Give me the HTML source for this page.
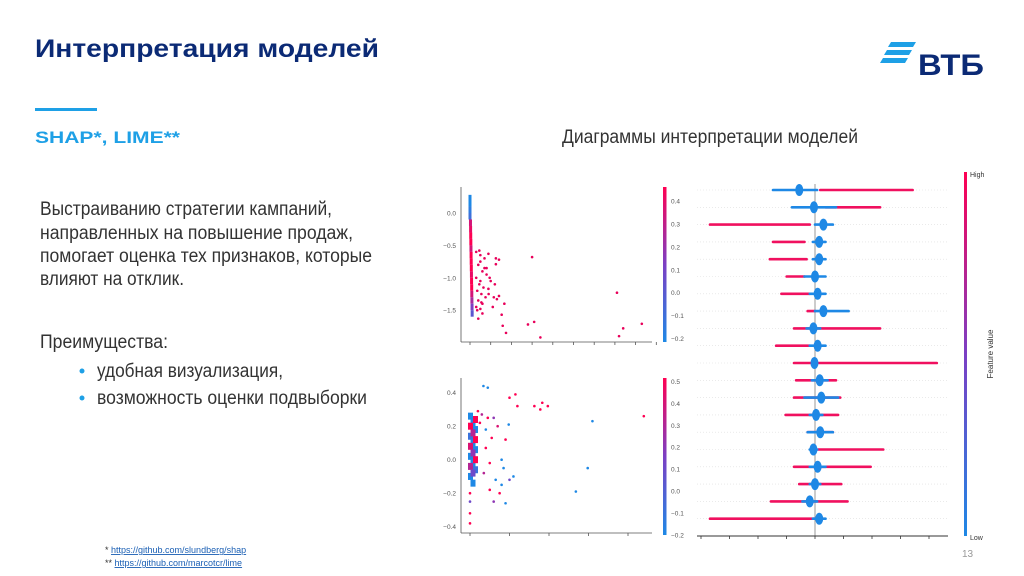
<!DOCTYPE html>
<html><head><meta charset="utf-8">
<style>
html,body{margin:0;padding:0;background:#fff;}
body{width:1024px;height:576px;overflow:hidden;position:relative;font-family:"Liberation Sans","Noto Sans CJK SC",sans-serif;}
svg{position:absolute;left:0;top:0;}
</style></head>
<body>
<svg id="s" width="1024" height="576" viewBox="0 0 1024 576">
  <text x="35" y="57" font-size="25" font-weight="bold" fill="#0b2a75" textLength="344" lengthAdjust="spacingAndGlyphs">Интерпретация моделей</text>
  <rect x="35" y="108" width="62" height="3" fill="#1ea0e6"/>
  <text x="35" y="143" font-size="17" font-weight="bold" fill="#1ea0e6" textLength="145" lengthAdjust="spacingAndGlyphs">SHAP*, LIME**</text>
  <g>
    <polygon points="891,42 916,42 913,47 888,47" fill="#1ea0e6"/>
    <polygon points="887,50 912,50 909,55 884,55" fill="#1ea0e6"/>
    <polygon points="883,58 908,58 905,63 880,63" fill="#1ea0e6"/>
    <text x="918" y="75" font-size="30" font-weight="bold" fill="#0b2a75" textLength="66" lengthAdjust="spacingAndGlyphs">ВТБ</text>
  </g>
  <g font-size="19" fill="#333">
    <text x="40" y="215" textLength="292" lengthAdjust="spacingAndGlyphs">Выстраиванию стратегии кампаний,</text>
    <text x="40" y="239" textLength="313" lengthAdjust="spacingAndGlyphs">направленных на повышение продаж,</text>
    <text x="40" y="262" textLength="332" lengthAdjust="spacingAndGlyphs">помогает оценка тех признаков, которые</text>
    <text x="40" y="285" textLength="144" lengthAdjust="spacingAndGlyphs">влияют на отклик.</text>
    <text x="40" y="348" textLength="128" lengthAdjust="spacingAndGlyphs">Преимущества:</text>
    <circle cx="82" cy="371" r="2.5" fill="#1ea0e6"/>
    <text x="97" y="377" textLength="186" lengthAdjust="spacingAndGlyphs">удобная визуализация,</text>
    <circle cx="82" cy="398" r="2.5" fill="#1ea0e6"/>
    <text x="97" y="404" textLength="270" lengthAdjust="spacingAndGlyphs">возможность оценки подвыборки</text>
  </g>
  <text x="562" y="143" font-size="19" fill="#333" textLength="296" lengthAdjust="spacingAndGlyphs">Диаграммы интерпретации моделей</text>
  <g font-size="9">
    <text x="105" y="553" fill="#333">* <tspan fill="#1a5fb4" text-decoration="underline">https://github.com/slundberg/shap</tspan></text>
    <text x="105" y="566" fill="#333">** <tspan fill="#1a5fb4" text-decoration="underline">https://github.com/marcotcr/lime</tspan></text>
  </g>
  <text x="962" y="557" font-size="10" fill="#999">13</text>
  <defs>
    <linearGradient id="cb" x1="0" y1="1" x2="0" y2="0">
      <stop offset="0" stop-color="#1e88e5"/><stop offset="0.5" stop-color="#7b3fc4"/><stop offset="1" stop-color="#ff0052"/>
    </linearGradient>
  </defs>
  <g id="top"></g>
  <g id="bot"></g>
  <g id="bee"></g>
</svg>
<script>
// ---- data: top dependence plot ----
const topYTicks = [0.0, -0.5, -1.0, -1.5];
const topCbTicks = [0.4, 0.3, 0.2, 0.1, 0.0, -0.1, -0.2];
const topPtsX = [3.0,7.1,8.3,7.4,7.2,3.4,3.1,2.8,1.74,1.58,1.53,1.66,0.89,1.25,1.4,1.25,0.8,0.95,0.89,1.4,1.1,0.4,0.6,
  0.3,0.5,0.7,0.4,0.6,0.3,0.5,0.8,0.45,0.65,0.35,0.55,0.75,0.4,0.6,0.3,0.5,0.7,1.0,1.2,0.9,0.35,0.55,0.45,1.15,1.3,0.5];
const topPtsY = [-0.68,-1.23,-1.71,-1.78,-1.9,-1.92,-1.68,-1.72,-1.85,-1.74,-1.57,-1.4,-0.63,-0.70,-0.72,-0.79,-0.85,-1.0,-1.17,-1.28,-1.45,-1.63,-1.55,
  -0.6,-0.65,-0.7,-0.8,-0.9,-1.0,-1.05,-0.95,-1.1,-1.15,-1.2,-1.25,-1.3,-1.35,-1.4,-1.45,-0.75,-0.85,-1.05,-1.1,-1.25,-1.5,-1.38,-0.58,-1.3,-1.33,-1.48];
const topColY = [0.28,0.2,0.1,0.0,-0.1,-0.2,-0.3,-0.4,-0.5,-0.6,-0.7,-0.8,-0.9,-1.0,-1.1,-1.2,-1.3,-1.4,-1.5];
const topColVal = [-0.2,-0.2,-0.15,-0.1,0.3,0.35,0.4,0.4,0.3,0.4,0.4,0.4,0.35,0.4,0.4,0.3,0.2,0.1,0.0];
// ---- data: bottom dependence plot ----
const botYTicks = [0.4, 0.2, 0.0, -0.2, -0.4];
const botCbTicks = [0.5, 0.4, 0.3, 0.2, 0.1, 0.0, -0.1, -0.2];
const botPtsX = [0.34,0.45,1.0,1.15,1.2,1.63,1.78,1.83,1.97,4.4,3.1,2.98,2.68,0.98,0.2,0.3,0.45,0.6,0.55,0.7,0.4,0.8,0.9,0.35,0.5,0.65,0.25,0.85,1.0,0.75,0.0,0.0,0.0,0.0,0.6,0.9,0.5,0.4,0.8,1.1];
const botPtsY = [0.44,0.43,0.37,0.39,0.32,0.32,0.3,0.34,0.32,0.26,0.23,-0.05,-0.19,0.21,0.29,0.27,0.25,0.25,0.13,0.2,0.18,0.0,0.12,-0.08,-0.02,-0.12,0.22,-0.05,-0.12,-0.2,-0.2,-0.25,-0.32,-0.38,-0.25,-0.26,-0.18,0.07,-0.15,-0.1];
const botPtsV = [-0.2,-0.2,0.5,0.5,0.5,0.5,0.5,0.5,0.5,0.5,-0.2,-0.2,-0.2,-0.2,0.5,0.3,0.5,0.2,0.5,0.4,-0.2,-0.2,0.5,0.3,0.5,-0.2,0.5,-0.2,0.1,0.5,0.5,0.1,0.5,0.5,0.2,-0.2,0.5,0.5,-0.2,-0.2];
const botColY = [0.26,0.22,0.18,0.14,0.1,0.06,0.02,-0.02,-0.06,-0.1,-0.14,0.24,0.2,0.16,0.12,0.08,0.04,0.0,-0.04,-0.08];
const botColV = [-0.2,-0.2,-0.2,-0.1,-0.2,-0.2,-0.2,-0.2,-0.1,-0.2,-0.2,0.5,0.5,0.3,0.5,0.4,0.2,0.5,0.3,0.1];
// ---- data: SHAP summary (beeswarm) rows ----
const blueLo = [-0.40,-0.22,0.0,-0.02,-0.02,-0.10,-0.05,0.0,-0.08,-0.05,-0.03,-0.03,-0.10,-0.05,-0.07,-0.05,-0.05,-0.05,-0.12,-0.02];
const blueHi = [0.02,0.20,0.17,0.10,0.10,0.10,0.10,0.32,0.05,0.10,0.02,0.12,0.22,0.07,0.17,0.02,0.10,0.05,0.02,0.10];
const redLo  = [0.05,0.10,-1.00,-0.40,-0.43,-0.27,-0.32,-0.07,-0.20,-0.37,-0.20,-0.18,-0.20,-0.28,-0.07,0.03,-0.20,-0.15,-0.42,-1.00];
const redHi  = [0.93,0.62,-0.05,-0.10,-0.08,-0.10,-0.05,0.00,0.62,-0.05,1.16,0.20,0.24,0.22,0.17,0.65,0.53,0.25,0.31,0.00];

const NS="http://www.w3.org/2000/svg";
function mk(parent,tag,attrs){const e=document.createElementNS(NS,tag);for(const k in attrs)e.setAttribute(k,attrs[k]);parent.appendChild(e);return e;}
function col(t){
  const a=[30,136,229],m=[123,63,196],b=[255,0,82];let c;
  if(t<0.5){const u=t*2;c=a.map((v,i)=>Math.round(v+(m[i]-v)*u));}else{const u=(t-0.5)*2;c=m.map((v,i)=>Math.round(v+(b[i]-v)*u));}
  return `rgb(${c})`;
}
function tickText(v){return (v<0?"\u2212":"")+Math.abs(v).toFixed(1);}

// ---- top plot ----
(function(){
  const g=document.getElementById('top');
  const xs=v=>470+v*20.7, ys=v=>213-v*64.8;
  mk(g,'line',{x1:461,y1:187,x2:461,y2:342,stroke:'#555','stroke-width':0.8});
  mk(g,'line',{x1:461,y1:342,x2:652,y2:342,stroke:'#555','stroke-width':0.8});
  for(let i=0;i<=9;i++){mk(g,'line',{x1:xs(i),y1:342,x2:xs(i),y2:345,stroke:'#555','stroke-width':0.8});}
  topYTicks.forEach(v=>{
    const t=mk(g,'text',{x:456,y:ys(v)+2.5,'font-size':6.5,fill:'#555','text-anchor':'end'});t.textContent=tickText(v);
    
    
  });
  topColY.forEach((y,i)=>{
    const r=mk(g,'rect',{x:xs(0)-1.5+(i>3?i*0.12:0),y:ys(y),width:3,height:6.5,fill:col((topColVal[i]+0.2)/0.6)});
    
    
  });
  topPtsX.forEach((x,i)=>{
    const c=mk(g,'circle',{cx:xs(x),cy:ys(topPtsY[i]),r:1.3,fill:'#e8005a'});
    
    
  });
  mk(g,'rect',{x:663,y:187,width:3.5,height:155,fill:'url(#cb)'});
  const cb=v=>292.7-v*229;
  topCbTicks.forEach(v=>{
    const t=mk(g,'text',{x:671,y:cb(v)+2.5,'font-size':6.5,fill:'#555'});t.textContent=tickText(v);
    
    
  });
})();

// ---- bottom plot ----
(function(){
  const g=document.getElementById('bot');
  const xs=v=>470+v*39.5, ys=v=>459.7-v*167.5;
  mk(g,'line',{x1:461,y1:378,x2:461,y2:533,stroke:'#555','stroke-width':0.8});
  mk(g,'line',{x1:461,y1:533,x2:652,y2:533,stroke:'#555','stroke-width':0.8});
  for(let i=0;i<=4;i++){mk(g,'line',{x1:xs(i),y1:533,x2:xs(i),y2:536,stroke:'#555','stroke-width':0.8});}
  botYTicks.forEach(v=>{
    const t=mk(g,'text',{x:456,y:ys(v)+2.5,'font-size':6.5,fill:'#555','text-anchor':'end'});t.textContent=tickText(v);
    
    
  });
  botColY.forEach((y,i)=>{
    const r=mk(g,'rect',{x:xs(0)-2+(i%3)*2.5,y:ys(y)-3.5,width:5,height:7,fill:col((botColV[i]+0.2)/0.7)});
    
    
  });
  botPtsX.forEach((x,i)=>{
    const c=mk(g,'circle',{cx:xs(x),cy:ys(botPtsY[i]),r:1.3,fill:col((botPtsV[i]+0.2)/0.7)});
    
    
  });
  mk(g,'rect',{x:663,y:378,width:3.5,height:157,fill:'url(#cb)'});
  const cb=v=>491-v*219;
  botCbTicks.forEach(v=>{
    const t=mk(g,'text',{x:671,y:cb(v)+2.5,'font-size':6.5,fill:'#555'});t.textContent=tickText(v);
    
    
  });
})();

// ---- beeswarm ----
(function(){
  const g=document.getElementById('bee');
  const xs=v=>815+v*105, ry=i=>190+i*17.3;
  blueLo.forEach((_,i)=>{
    mk(g,'line',{x1:697,y1:ry(i),x2:948,y2:ry(i),stroke:'#ddd','stroke-width':0.6,'stroke-dasharray':'1,2'});
  });
  mk(g,'line',{x1:815,y1:184,x2:815,y2:536,stroke:'#999','stroke-width':1});
  blueLo.forEach((_,i)=>{
    const y=ry(i);
    const rl=mk(g,'line',{x1:xs(redLo[i]),y1:y,x2:xs(redHi[i]),y2:y,stroke:'#f0105f','stroke-width':2.6,'stroke-linecap':'round'});
    
    
    const bl=mk(g,'line',{x1:xs(blueLo[i]),y1:y,x2:xs(blueHi[i]),y2:y,stroke:'#1e88e5','stroke-width':2.6,'stroke-linecap':'round'});
    
    
    const c=(blueLo[i]+blueHi[i])/2;
    const el=mk(g,'ellipse',{cx:xs(Math.max(-0.15,Math.min(0.08,c))),cy:y,rx:4,ry:6,fill:'#1e88e5'});
    
    
  });
  mk(g,'line',{x1:697,y1:536,x2:948,y2:536,stroke:'#333','stroke-width':1});
  for(let k=-4;k<=4;k++){mk(g,'line',{x1:815+k*28.5,y1:536,x2:815+k*28.5,y2:539,stroke:'#333','stroke-width':0.8});}
  mk(g,'rect',{x:964,y:172,width:3,height:364,fill:'url(#cb)'});
  const h=mk(g,'text',{x:970,y:177,'font-size':7,fill:'#333'});h.textContent='High';
  
  
  const l=mk(g,'text',{x:970,y:540,'font-size':7,fill:'#333'});l.textContent='Low';
  
  
  const f=mk(g,'text',{x:993,y:354,'font-size':8,fill:'#333','text-anchor':'middle',transform:'rotate(-90 993 354)'});f.textContent='Feature value';
  
  
})();
</script>
</body></html>
